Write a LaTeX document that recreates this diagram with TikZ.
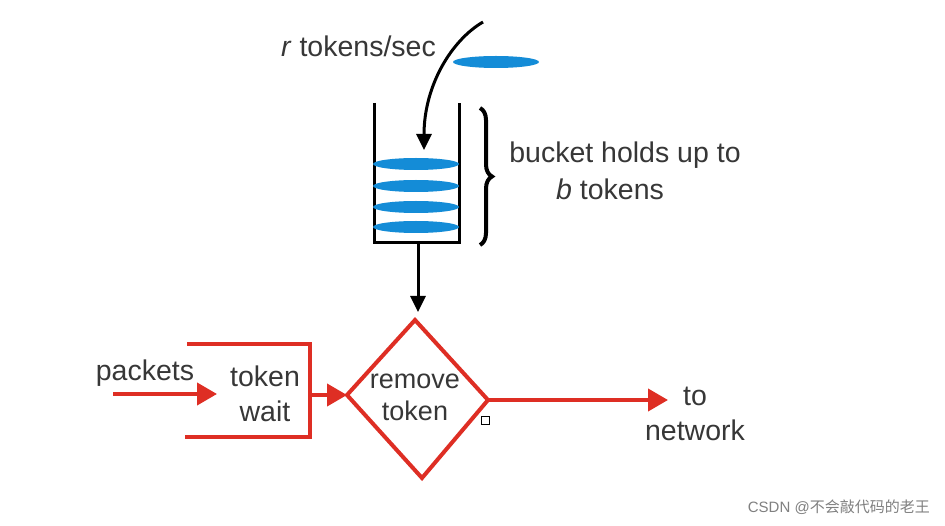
\documentclass[tikz,border=0pt]{standalone}
\usepackage{fontspec}
\setmainfont{Liberation Sans}
\newfontfamily\cjk{Noto Sans CJK SC}
\usetikzlibrary{arrows.meta,decorations.pathreplacing}
\definecolor{tbred}{RGB}{222,46,36}
\definecolor{tbblue}{RGB}{20,140,215}
\definecolor{tbtext}{RGB}{55,55,55}
\tikzset{
  lbl/.style={text=tbtext,font=\fontsize{28.5}{35}\selectfont,inner sep=0pt,align=center},
  redline/.style={draw=tbred,line width=4pt},
  redarrow/.style={redline,-{Triangle[length=20pt,width=22pt]}},
  blkline/.style={draw=black,line width=3pt},
  blkarrow/.style={blkline,-{Triangle[length=16pt,width=15pt]}},
  tokenfill/.style={fill=tbblue,draw=none},
}
\begin{document}
\begin{tikzpicture}[x=1pt,y=-1pt]
\useasboundingbox[fill=white] (0,0) rectangle (945,526);
% bucket
\coordinate (bTL) at (374,103);
\coordinate (bTR) at (459,103);
\draw[blkline,line cap=butt] (bTL) -- (374,243) -- (459,243) -- (bTR);
\coordinate (bbot) at (418,243);
% tokens
\foreach \y in {164,186,207,227} {\fill[tokenfill] (416,\y) ellipse [x radius=43, y radius=6];}
\fill[tokenfill] (496,62) ellipse [x radius=43, y radius=6];
% incoming curve
\coordinate (cin) at (483,22);
\coordinate (cend) at (424,150);
\draw[blkarrow] (cin) .. controls (452,40) and (424,85) .. (cend);
\node[lbl,anchor=east] (rate) at (436,46) {\textit{r} tokens/sec};
% brace
\draw[line width=4pt,decorate,decoration={brace,amplitude=12pt}] (480,108) -- (480,245);
\node[lbl] (holds) at (625,155) {bucket holds up to};
\node[lbl] (btok) at (610,189) {\textit{b} tokens};
% diamond
\coordinate (dT) at (415,320);
\coordinate (dL) at (347,395);
\coordinate (dR) at (488,400);
\coordinate (dB) at (422,478);
\draw[redline,line join=miter] (dT) -- (dR) -- (dB) -- (dL) -- cycle;
\node[lbl,font=\fontsize{27}{32}\selectfont] (remove) at (415,397) {remove\\token};
% bucket to diamond
\coordinate (dtop) at (418,312);
\draw[blkarrow] (bbot) -- (dtop);
% token wait bracket
\draw[redline,line join=miter] (187,344) -- (310,344) -- (310,437) -- (185,437);
\node[lbl] (wait) at (265,394) {token\\wait};
\coordinate (wout) at (310,395);
\draw[redarrow] (wout) -- (dL);
% packets
\node[lbl] (packets) at (145,373) {packets};
\coordinate (pin) at (113,394);
\coordinate (pend) at (217,394);
\draw[redarrow] (pin) -- (pend);
% output
\coordinate (outend) at (668,400);
\draw[redarrow] (dR) -- (outend);
\node[lbl] (net) at (695,414) {to\\network};
% small handle square
\draw[black,line width=1pt] (481,416) rectangle (489,424);
% watermark
\node[anchor=east,text=gray,inner sep=0pt,font=\fontsize{15}{18}\selectfont] (wm) at (930,507) {CSDN @{\cjk 不会敲代码的老王}};
\end{tikzpicture}
\end{document}
